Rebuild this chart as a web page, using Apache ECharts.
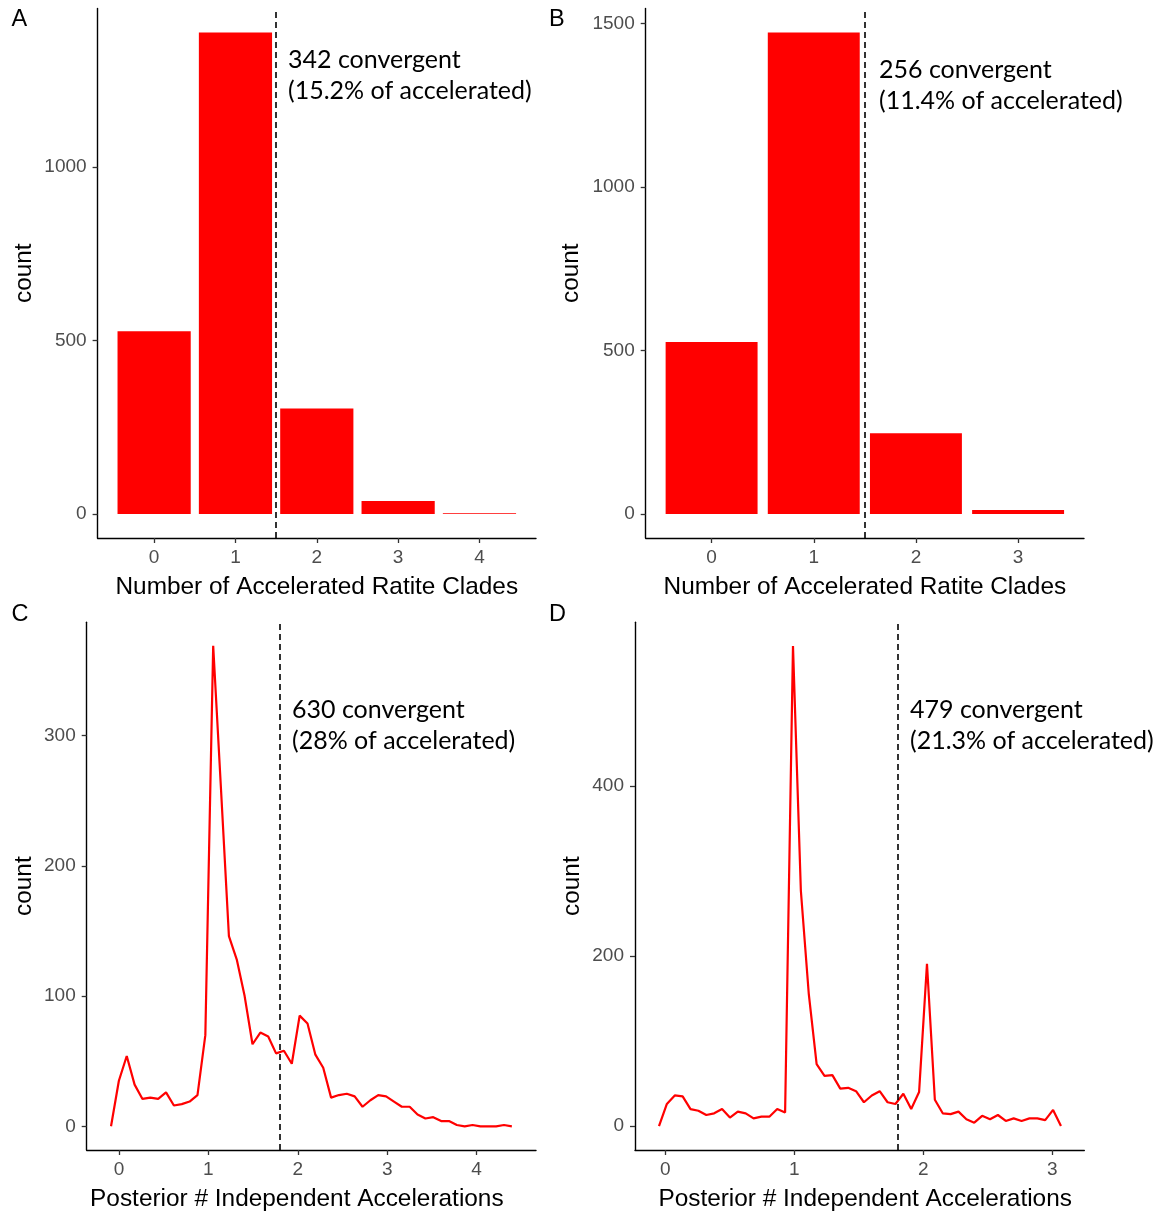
<!DOCTYPE html>
<html><head><meta charset="utf-8">
<script src="https://cdn.jsdelivr.net/npm/echarts@6/dist/echarts.min.js"></script>
<style>html,body{margin:0;padding:0;background:#fff}#c{width:1159px;height:1212px}</style>
</head><body><div id="c"></div>
<script>
// ---- Data ----
const cladesA = [0, 1, 2, 3, 4];
const countsA = [526, 1387, 304, 37, 2];
const cladesB = [0, 1, 2, 3];
const countsB = [526, 1472, 247, 12];

// Panel C: frequency polygon of posterior # independent accelerations
const binStartC = -0.089, binWidthC = 0.0879;
const countsC = [0, 35, 54, 32, 21, 22, 21, 26, 16, 17, 19, 24, 70, 369, 258, 146, 128, 100, 63, 72,
  69, 56, 58, 48, 85, 79, 55, 45, 22, 24, 25, 23, 15, 20, 24, 23, 19, 15, 15, 9,
  6, 7, 4, 4, 1, 0, 1, 0, 0, 0, 1, 0];
// Panel D
const binStartD = -0.049, binWidthD = 0.0611;
const countsD = [0, 26, 36, 35, 20, 18, 13, 15, 20, 10, 17, 15, 9, 11, 11, 20, 16, 565, 277, 156,
  73, 59, 60, 44, 45, 41, 28, 36, 41, 28, 26, 38, 20, 40, 191, 31, 15, 14, 17, 8,
  4, 12, 8, 13, 6, 9, 6, 9, 9, 7, 19, 0];

const cutoffClades = 1.5;
const cutoffPosterior = 1.8;

const ticksAx = [0, 1, 2, 3, 4], ticksAy = [0, 500, 1000];
const ticksBx = [0, 1, 2, 3], ticksBy = [0, 500, 1000, 1500];
const ticksCx = [0, 1, 2, 3, 4], ticksCy = [0, 100, 200, 300];
const ticksDx = [0, 1, 2, 3], ticksDy = [0, 200, 400];

const panelLabels = ['A', 'B', 'C', 'D'];
const notesA = ['342 convergent', '(15.2% of accelerated)'];
const notesB = ['256 convergent', '(11.4% of accelerated)'];
const notesC = ['630 convergent', '(28% of accelerated)'];
const notesD = ['479 convergent', '(21.3% of accelerated)'];
const xTitleBar = 'Number of Accelerated Ratite Clades';
const xTitleLine = 'Posterior # Independent Accelerations';
const yTitle = 'count';

// ---- Chart ----
const chart = echarts.init(document.getElementById('c'), null, {renderer: 'canvas'});
const RED = '#ff0000';
const TICKFONT = "'Liberation Sans', Arial, sans-serif";
const NOTEFONT = "Lato, 'Open Sans', sans-serif";

function xAx(gi, min, max, ticks, name, pad) {
  return {
    type: 'value', gridIndex: gi, min: min, max: max,
    axisLine: {show: true, onZero: false, lineStyle: {color: '#000', width: 1.4}},
    axisTick: {show: true, customValues: ticks, length: 5, lineStyle: {color: '#333', width: 1.3}},
    axisLabel: {customValues: ticks, formatter: v => String(v), color: '#4d4d4d', fontSize: 19, fontFamily: TICKFONT, margin: 10},
    splitLine: {show: false},
    name: name, nameLocation: 'middle', nameGap: 37,
    nameTextStyle: {color: '#000', fontSize: 24.4, fontFamily: TICKFONT, padding: pad}
  };
}
function yAx(gi, min, max, ticks, gap) {
  return {
    type: 'value', gridIndex: gi, min: min, max: max,
    axisLine: {show: true, onZero: false, lineStyle: {color: '#000', width: 1.4}},
    axisTick: {show: true, customValues: ticks, length: 5, lineStyle: {color: '#333', width: 1.3}},
    axisLabel: {customValues: ticks, formatter: v => String(v), color: '#4d4d4d', fontSize: 19, fontFamily: TICKFONT, margin: 11},
    splitLine: {show: false},
    name: yTitle, nameLocation: 'middle', nameGap: gap,
    nameTextStyle: {color: '#000', fontSize: 24.4, fontFamily: TICKFONT}
  };
}
function barRender(params, api) {
  const x = api.value(0), y = api.value(1);
  const p0 = api.coord([x - 0.45, 0]);
  const p1 = api.coord([x + 0.45, y]);
  return {type: 'rect', shape: {x: p0[0], y: Math.min(p0[1], p1[1]), width: p1[0] - p0[0], height: Math.abs(p0[1] - p1[1])},
          style: {fill: RED}};
}
function cutLine(v) {
  return {silent: true, symbol: ['none', 'none'], label: {show: false},
          lineStyle: {type: [6, 4], color: '#000', width: 1.6}, data: [{xAxis: v}]};
}
function noteText(lines, x, y1, y2) {
  return [
    {type: 'text', left: x, top: y1, style: {text: lines[0], fill: '#000', font: '25px ' + NOTEFONT, textVerticalAlign: 'middle'}},
    {type: 'text', left: x, top: y2, style: {text: lines[1], fill: '#000', font: '25px ' + NOTEFONT, textVerticalAlign: 'middle'}}
  ];
}

const option = {
  animation: false,
  backgroundColor: '#fff',
  grid: [
    {left: 97.6, top: 8.4, width: 438.4, height: 529.6},
    {left: 645.7, top: 8.4, width: 438.3, height: 529.6},
    {left: 86.7, top: 622.3, width: 449.3, height: 529.4},
    {left: 635, top: 622.3, width: 449.3, height: 529.4}
  ],
  xAxis: [
    xAx(0, -0.695, 4.695, ticksAx, xTitleBar, 0),
    xAx(1, -0.645, 3.645, ticksBx, xTitleBar, 0),
    xAx(2, -0.361, 4.664, ticksCx, xTitleLine, [0, 29, 0, 0]),
    xAx(3, -0.235, 3.248, ticksDx, xTitleLine, [0, 0, 0, 11])
  ],
  yAxis: [
    yAx(0, -69.35, 1456.35, ticksAy, 61),
    yAx(1, -73.6, 1545.6, ticksBy, 62),
    yAx(2, -18.2, 387, ticksCy, 50),
    yAx(3, -28.2, 593, ticksDy, 51)
  ],
  series: [
    {type: 'custom', xAxisIndex: 0, yAxisIndex: 0, renderItem: barRender, encode: {x: 0, y: 1},
     data: cladesA.map((c, i) => [c, countsA[i]]), markLine: cutLine(cutoffClades)},
    {type: 'custom', xAxisIndex: 1, yAxisIndex: 1, renderItem: barRender, encode: {x: 0, y: 1},
     data: cladesB.map((c, i) => [c, countsB[i]]), markLine: cutLine(cutoffClades)},
    {type: 'line', xAxisIndex: 2, yAxisIndex: 2, showSymbol: false, symbol: 'none',
     lineStyle: {color: RED, width: 2.2}, itemStyle: {color: RED},
     data: countsC.map((v, i) => [binStartC + i * binWidthC, v]), markLine: cutLine(cutoffPosterior)},
    {type: 'line', xAxisIndex: 3, yAxisIndex: 3, showSymbol: false, symbol: 'none',
     lineStyle: {color: RED, width: 2.2}, itemStyle: {color: RED},
     data: countsD.map((v, i) => [binStartD + i * binWidthD, v]), markLine: cutLine(cutoffPosterior)}
  ],
  graphic: [
    {type: 'text', left: 11.5, top: 8, style: {text: panelLabels[0], fill: '#000', font: "23.5px 'Liberation Sans', Arial, sans-serif"}},
    {type: 'text', left: 549, top: 8, style: {text: panelLabels[1], fill: '#000', font: "23.5px 'Liberation Sans', Arial, sans-serif"}},
    {type: 'text', left: 11.5, top: 603, style: {text: panelLabels[2], fill: '#000', font: "23.5px 'Liberation Sans', Arial, sans-serif"}},
    {type: 'text', left: 549, top: 603, style: {text: panelLabels[3], fill: '#000', font: "23.5px 'Liberation Sans', Arial, sans-serif"}}
  ].concat(noteText(notesA, 288, 47, 78), noteText(notesB, 879, 57, 88),
           noteText(notesC, 292, 697, 728), noteText(notesD, 910, 697, 728))
};
chart.setOption(option);
</script>
</body></html>
